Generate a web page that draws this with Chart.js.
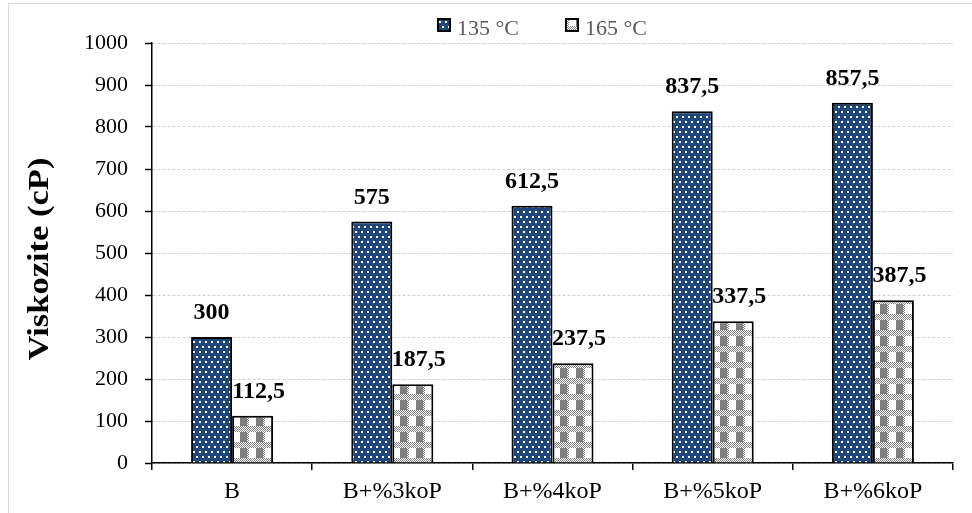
<!DOCTYPE html>
<html>
<head>
<meta charset="utf-8">
<style>
  html, body { margin: 0; padding: 0; background: #fff; }
  #wrap { width: 972px; height: 513px; position: relative; }
</style>
<script src="https://cdn.jsdelivr.net/npm/chart.js@4.4.1/dist/chart.umd.min.js"></script>
</head>
<body>
<div id="wrap"><canvas id="c" width="972" height="513"></canvas></div>
<script>
// Viscosity of binder samples at two test temperatures
const categories = ['B', 'B+%3koP', 'B+%4koP', 'B+%5koP', 'B+%6koP'];
const visc135 = [300, 575, 612.5, 837.5, 857.5];
const visc165 = [112.5, 187.5, 237.5, 337.5, 387.5];
const seriesNames = ['135 °C', '165 °C'];
const yMin = 0, yMax = 1000, yStep = 100;
const yTitle = 'Viskozite (cP)';

const SERIF = "'Liberation Serif', 'Times New Roman', serif";
const NAVY = '#1f477c';
const GREY = '#7f7f7f';

// white dots on navy
function dotsPattern() {
  const c = document.createElement('canvas');
  c.width = 6; c.height = 10;
  const g = c.getContext('2d');
  g.fillStyle = NAVY; g.fillRect(0, 0, 6, 10);
  g.fillStyle = '#ffffff';
  g.fillRect(1, 1, 2, 2);
  g.fillRect(4, 6, 2, 2);
  return g.createPattern(c, 'repeat');
}

// plaid: grey and white blocks separated by fine checker lines
function plaidPattern() {
  const c = document.createElement('canvas');
  c.width = 16; c.height = 16;
  const g = c.getContext('2d');
  g.fillStyle = '#ffffff'; g.fillRect(0, 0, 16, 16);
  g.fillStyle = GREY;
  g.fillRect(0, 0, 7, 10);
  const checker = (x0, x1, y0, y1) => {
    for (let y = y0; y < y1; y++) {
      for (let x = x0; x < x1; x++) {
        if ((x + y) % 2 === 0) g.fillRect(x, y, 1, 1);
      }
    }
  };
  checker(7, 9, 0, 10);
  checker(0, 16, 10, 16);
  return g.createPattern(c, 'repeat');
}

const fills = [dotsPattern(), plaidPattern()];

const fmt = v => String(v).replace('.', ',');

const decor = {
  id: 'decor',
  beforeDraw(chart) {
    const ctx = chart.ctx;
    ctx.save();
    ctx.fillStyle = '#ffffff';
    ctx.fillRect(0, 0, chart.width, chart.height);
    ctx.strokeStyle = '#d9d9d9';
    ctx.lineWidth = 1;
    ctx.strokeRect(8.5, 3.5, chart.width, chart.height);
    ctx.restore();
  },
  afterDatasetsDraw(chart) {
    const ctx = chart.ctx;
    const shift = [0, 6];
    ctx.save();
    ctx.font = 'bold 24px ' + SERIF;
    ctx.fillStyle = '#000';
    ctx.textAlign = 'center';
    ctx.textBaseline = 'middle';
    chart.data.datasets.forEach((ds, di) => {
      chart.getDatasetMeta(di).data.forEach((bar, i) => {
        ctx.fillText(fmt(ds.data[i]), bar.x + shift[di], bar.y - 24);
      });
    });
    ctx.restore();
  },
  afterDraw(chart) {
    const ctx = chart.ctx;
    ctx.save();
    // y-axis title, rotated, centred on the plot height
    const ya = chart.scales.y;
    ctx.font = 'bold 30px ' + SERIF;
    ctx.fillStyle = '#000';
    ctx.textAlign = 'center';
    ctx.textBaseline = 'middle';
    ctx.translate(40, (ya.top + ya.bottom) / 2 + 6);
    ctx.rotate(-Math.PI / 2);
    ctx.scale(1.15, 1);
    ctx.fillText(yTitle, 0, 0);
    ctx.restore();

    // legend row above the plot
    ctx.save();
    ctx.font = '22px ' + SERIF;
    ctx.textBaseline = 'alphabetic';
    let x = 438;
    chart.data.datasets.forEach((ds, di) => {
      ctx.fillStyle = fills[di];
      ctx.fillRect(x, 19, 12, 12);
      ctx.strokeStyle = '#000';
      ctx.lineWidth = 2;
      ctx.strokeRect(x, 19, 12, 12);
      ctx.fillStyle = '#595959';
      ctx.fillText(ds.label, x + 19, 35);
      x += 19 + ctx.measureText(ds.label).width + 47;
    });
    ctx.restore();
  }
};

new Chart(document.getElementById('c'), {
  type: 'bar',
  data: {
    labels: categories,
    datasets: [
      { label: seriesNames[0], data: visc135, backgroundColor: fills[0], borderColor: '#000', borderWidth: 2 },
      { label: seriesNames[1], data: visc165, backgroundColor: fills[1], borderColor: '#000', borderWidth: 2 }
    ]
  },
  options: {
    responsive: false,
    animation: false,
    devicePixelRatio: 1,
    layout: { padding: { left: 10, right: 19, top: 43, bottom: 0 } },
    datasets: { bar: { categoryPercentage: 0.512, barPercentage: 1 } },
    plugins: { legend: { display: false }, tooltip: { enabled: false } },
    scales: {
      x: {
        grid: { offset: true, drawOnChartArea: false, drawTicks: true, tickLength: 7, color: '#000', lineWidth: 1.5 },
        border: { display: true, color: '#000', width: 1.5 },
        ticks: { font: { family: SERIF, size: 24 }, color: '#000', padding: 7 },
        afterFit(scale) { scale.height = 50; }
      },
      y: {
        min: yMin, max: yMax,
        grid: { color: '#d0d0d0', lineWidth: 1, tickLength: 7, tickColor: '#000', tickWidth: 1.5, tickBorderDash: [] },
        border: { display: true, color: '#000', width: 1.5, dash: [3, 2] },
        ticks: { stepSize: yStep, font: { family: SERIF, size: 22 }, color: '#000', padding: 17, callback: v => String(v) },
        title: { display: false },
        afterFit(scale) { scale.width = 142; }
      }
    }
  },
  plugins: [decor]
});
</script>
</body>
</html>
